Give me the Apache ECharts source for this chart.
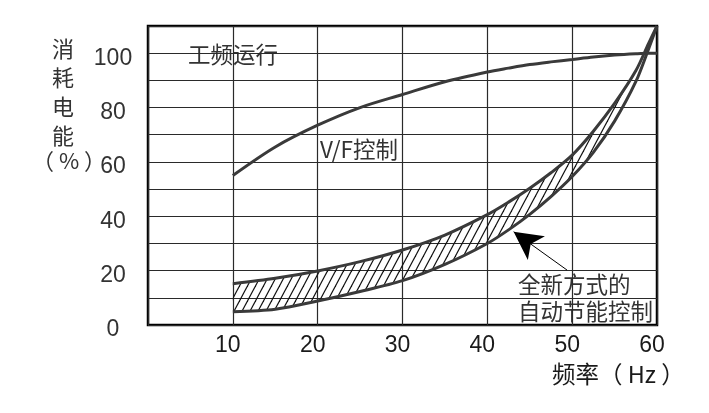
<!DOCTYPE html>
<html>
<head>
<meta charset="utf-8">
<script src="https://cdn.jsdelivr.net/npm/echarts@6/dist/echarts.min.js"></script>
<style>
html,body{margin:0;padding:0;background:#fff;}
#main{width:709px;height:413px;}
</style>
</head>
<body>
<div id="main"></div>
<script>
// ---- data ----
const freq       = [10, 15, 20, 25, 30, 35, 40, 42.5, 45, 47.5, 50, 52.5, 55, 57.5, 59, 60];
const vfControl  = [55, 65.5, 73.5, 80, 84.8, 89.5, 93.1, 94.5, 95.8, 96.8, 97.7, 98.6, 99.3, 99.8, 100, 100];
const autoUpper  = [15.2, 17.2, 19.9, 23.3, 27.6, 33.1, 40.6, 45.2, 50.3, 56, 62.5, 71.3, 81.5, 93.5, 103.5, 110];
const autoLower  = [4.9, 5.8, 8.8, 12.3, 16.3, 22.3, 30, 35, 40.7, 47.2, 54.6, 63.5, 75, 89.5, 101.5, 110];
const xTicks     = [10, 20, 30, 40, 50, 60];
const yTicks     = [0, 20, 40, 60, 80, 100];
const arrowFrom  = [49.4, 20.2];
const arrowTo    = [43.1, 34.3];

const FONT = '"Liberation Sans", "Noto Sans CJK SC", sans-serif';
const CJK = '"Noto Sans CJK SC", "Liberation Sans", sans-serif';
const LINE = '#3a3a3a';

// hatch pattern for the band
function hatch() {
  const w = 8, h = 15;
  const c = document.createElement('canvas');
  c.width = w; c.height = h;
  const g = c.getContext('2d');
  g.strokeStyle = '#111';
  g.lineWidth = 1.2;
  for (let k = -1; k <= 1; k++) {
    g.beginPath();
    g.moveTo(k * w - w, 2 * h);
    g.lineTo(k * w + 2 * w, -h);
    g.stroke();
  }
  return c;
}

// [y, x] order so that the stacked dimension is the y value
const pairYX = (ys) => freq.map((f, i) => [ys[i], f]);
const diff = freq.map((f, i) => [autoUpper[i] - autoLower[i], f]);

const chart = echarts.init(document.getElementById('main'), null, {renderer: 'canvas'});
chart.setOption({
  backgroundColor: '#fff',
  animation: false,
  grid: {left: 148, right: 52, top: 26, bottom: 88, show: true, borderColor: '#000', borderWidth: 2.5, backgroundColor: 'transparent'},
  xAxis: {
    type: 'value', min: 0, max: 60, interval: 10,
    axisLine: {show: false}, axisTick: {show: false},
    splitLine: {show: true, lineStyle: {color: '#2a2a2a', width: 1.2}},
    axisLabel: {
      fontSize: 23, fontFamily: FONT, color: '#1a1a1a', margin: 9,
      padding: [0, 10, 0, 0],
      formatter: v => xTicks.includes(v) ? String(v) : ''
    }
  },
  yAxis: {
    type: 'value', min: 0, max: 110, interval: 10,
    axisLine: {show: false}, axisTick: {show: false},
    splitLine: {show: true, lineStyle: {color: '#2a2a2a', width: 1.2}},
    axisLabel: {
      fontSize: 23, fontFamily: FONT, color: '#333', margin: 35, align: 'center',
      verticalAlign: 'top', lineHeight: 10,
      formatter: v => yTicks.includes(v) ? String(v) : ''
    }
  },
  series: [
    {
      type: 'line', name: 'V/F', data: freq.map((f, i) => [f, vfControl[i]]), smooth: 0.3, symbol: 'none',
      lineStyle: {color: LINE, width: 3},
      markLine: {
        silent: true, animation: false,
        symbol: ['none', 'arrow'], symbolSize: [22, 28],
        label: {show: false},
        lineStyle: {color: '#000', width: 1, type: 'solid'},
        itemStyle: {color: '#000'},
        data: [[{coord: arrowFrom, symbol: 'none'}, {coord: arrowTo, symbol: 'arrow'}]]
      }
    },
    {
      type: 'line', name: 'lower', data: pairYX(autoLower), encode: {x: 1, y: 0},
      smooth: 0.3, symbol: 'none', stack: 'band',
      lineStyle: {color: LINE, width: 3}
    },
    {
      type: 'line', name: 'upper', data: diff, encode: {x: 1, y: 0},
      smooth: 0.3, symbol: 'none', stack: 'band',
      lineStyle: {color: LINE, width: 3},
      areaStyle: {color: {image: hatch(), repeat: 'repeat'}, opacity: 1}
    }
  ],
  graphic: [
    {type: 'text', left: 188, top: 43, style: {text: '工频运行', font: '22.5px ' + CJK, fill: '#333'}},
    {type: 'text', left: 320, top: 138, style: {text: 'V/F控制', font: '22.5px ' + CJK, fill: '#333'}},
    {type: 'text', left: 518, top: 271, style: {text: '全新方式的\n自动节能控制', font: '22.5px ' + CJK, fill: '#333', lineHeight: 27}},
    {type: 'text', left: 52, top: 34, style: {text: '消\n耗\n电\n能', font: '22px ' + CJK, fill: '#333', lineHeight: 29}},
    {type: 'text', left: 32, top: 150, style: {text: '（ % ）', font: '22px ' + CJK, fill: '#333'}},
    {type: 'text', left: 552, top: 362, style: {text: '频率（ Hz ）', font: '23.5px ' + CJK, fill: '#1a1a1a'}}
  ]
});
</script>
</body>
</html>
